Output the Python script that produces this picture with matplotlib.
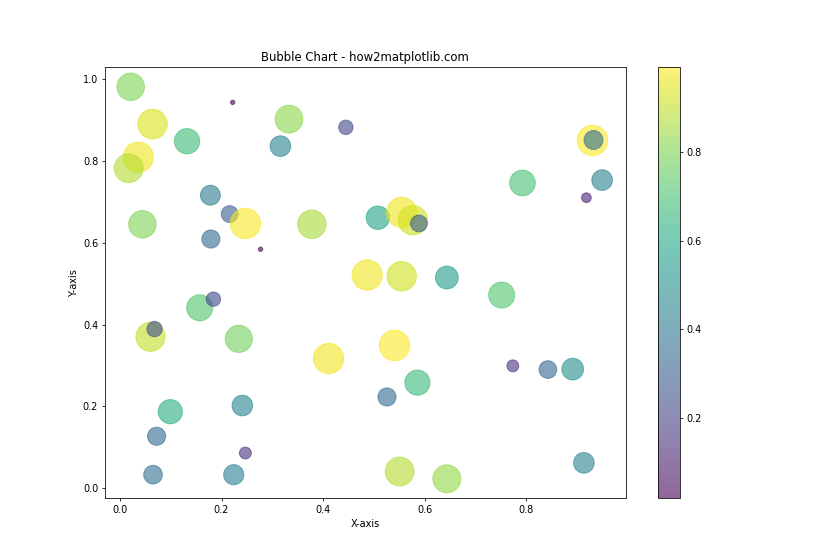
import matplotlib
matplotlib.use("Agg")
import matplotlib.pyplot as plt
import numpy as np

x = [0.021, 0.222, 0.064, 0.132, 0.036, 0.017, 0.333, 0.316, 0.445, 0.178,
     0.216, 0.247, 0.044, 0.378, 0.179, 0.277,
     0.931, 0.933, 0.793, 0.950, 0.919, 0.508, 0.555, 0.577, 0.589,
     0.487, 0.555, 0.644, 0.752, 0.541, 0.774, 0.843, 0.892, 0.586, 0.526,
     0.551, 0.644, 0.914,
     0.157, 0.184, 0.060, 0.068, 0.234, 0.411, 0.099, 0.241, 0.072, 0.247,
     0.065, 0.224]
y = [0.981, 0.943, 0.890, 0.848, 0.809, 0.782, 0.902, 0.836, 0.882, 0.716,
     0.670, 0.647, 0.645, 0.645, 0.609, 0.584,
     0.850, 0.851, 0.746, 0.753, 0.710, 0.661, 0.674, 0.655, 0.647,
     0.521, 0.518, 0.515, 0.472, 0.349, 0.299, 0.290, 0.291, 0.258, 0.223,
     0.041, 0.023, 0.062,
     0.441, 0.462, 0.370, 0.389, 0.365, 0.317, 0.187, 0.202, 0.127, 0.086,
     0.033, 0.033]
colors = [0.80, 0.02, 0.93, 0.68, 0.97, 0.88, 0.82, 0.45, 0.22, 0.42,
          0.30, 0.98, 0.80, 0.86, 0.35, 0.02,
          0.99, 0.38, 0.70, 0.45, 0.10, 0.58, 0.97, 0.92, 0.30,
          0.97, 0.92, 0.55, 0.72, 0.99, 0.15, 0.33, 0.50, 0.67, 0.35,
          0.88, 0.83, 0.45,
          0.72, 0.22, 0.90, 0.25, 0.78, 0.97, 0.62, 0.45, 0.35, 0.15,
          0.37, 0.43]
sizes = [c * 1000 for c in colors]

fig = plt.figure(figsize=(12, 8), dpi=70)
sc = plt.scatter(x, y, s=sizes, c=colors, alpha=0.6, cmap='viridis')
plt.colorbar(sc)
plt.title('Bubble Chart - how2matplotlib.com')
plt.xlabel('X-axis')
plt.ylabel('Y-axis')
plt.savefig('out.png', dpi=70)
